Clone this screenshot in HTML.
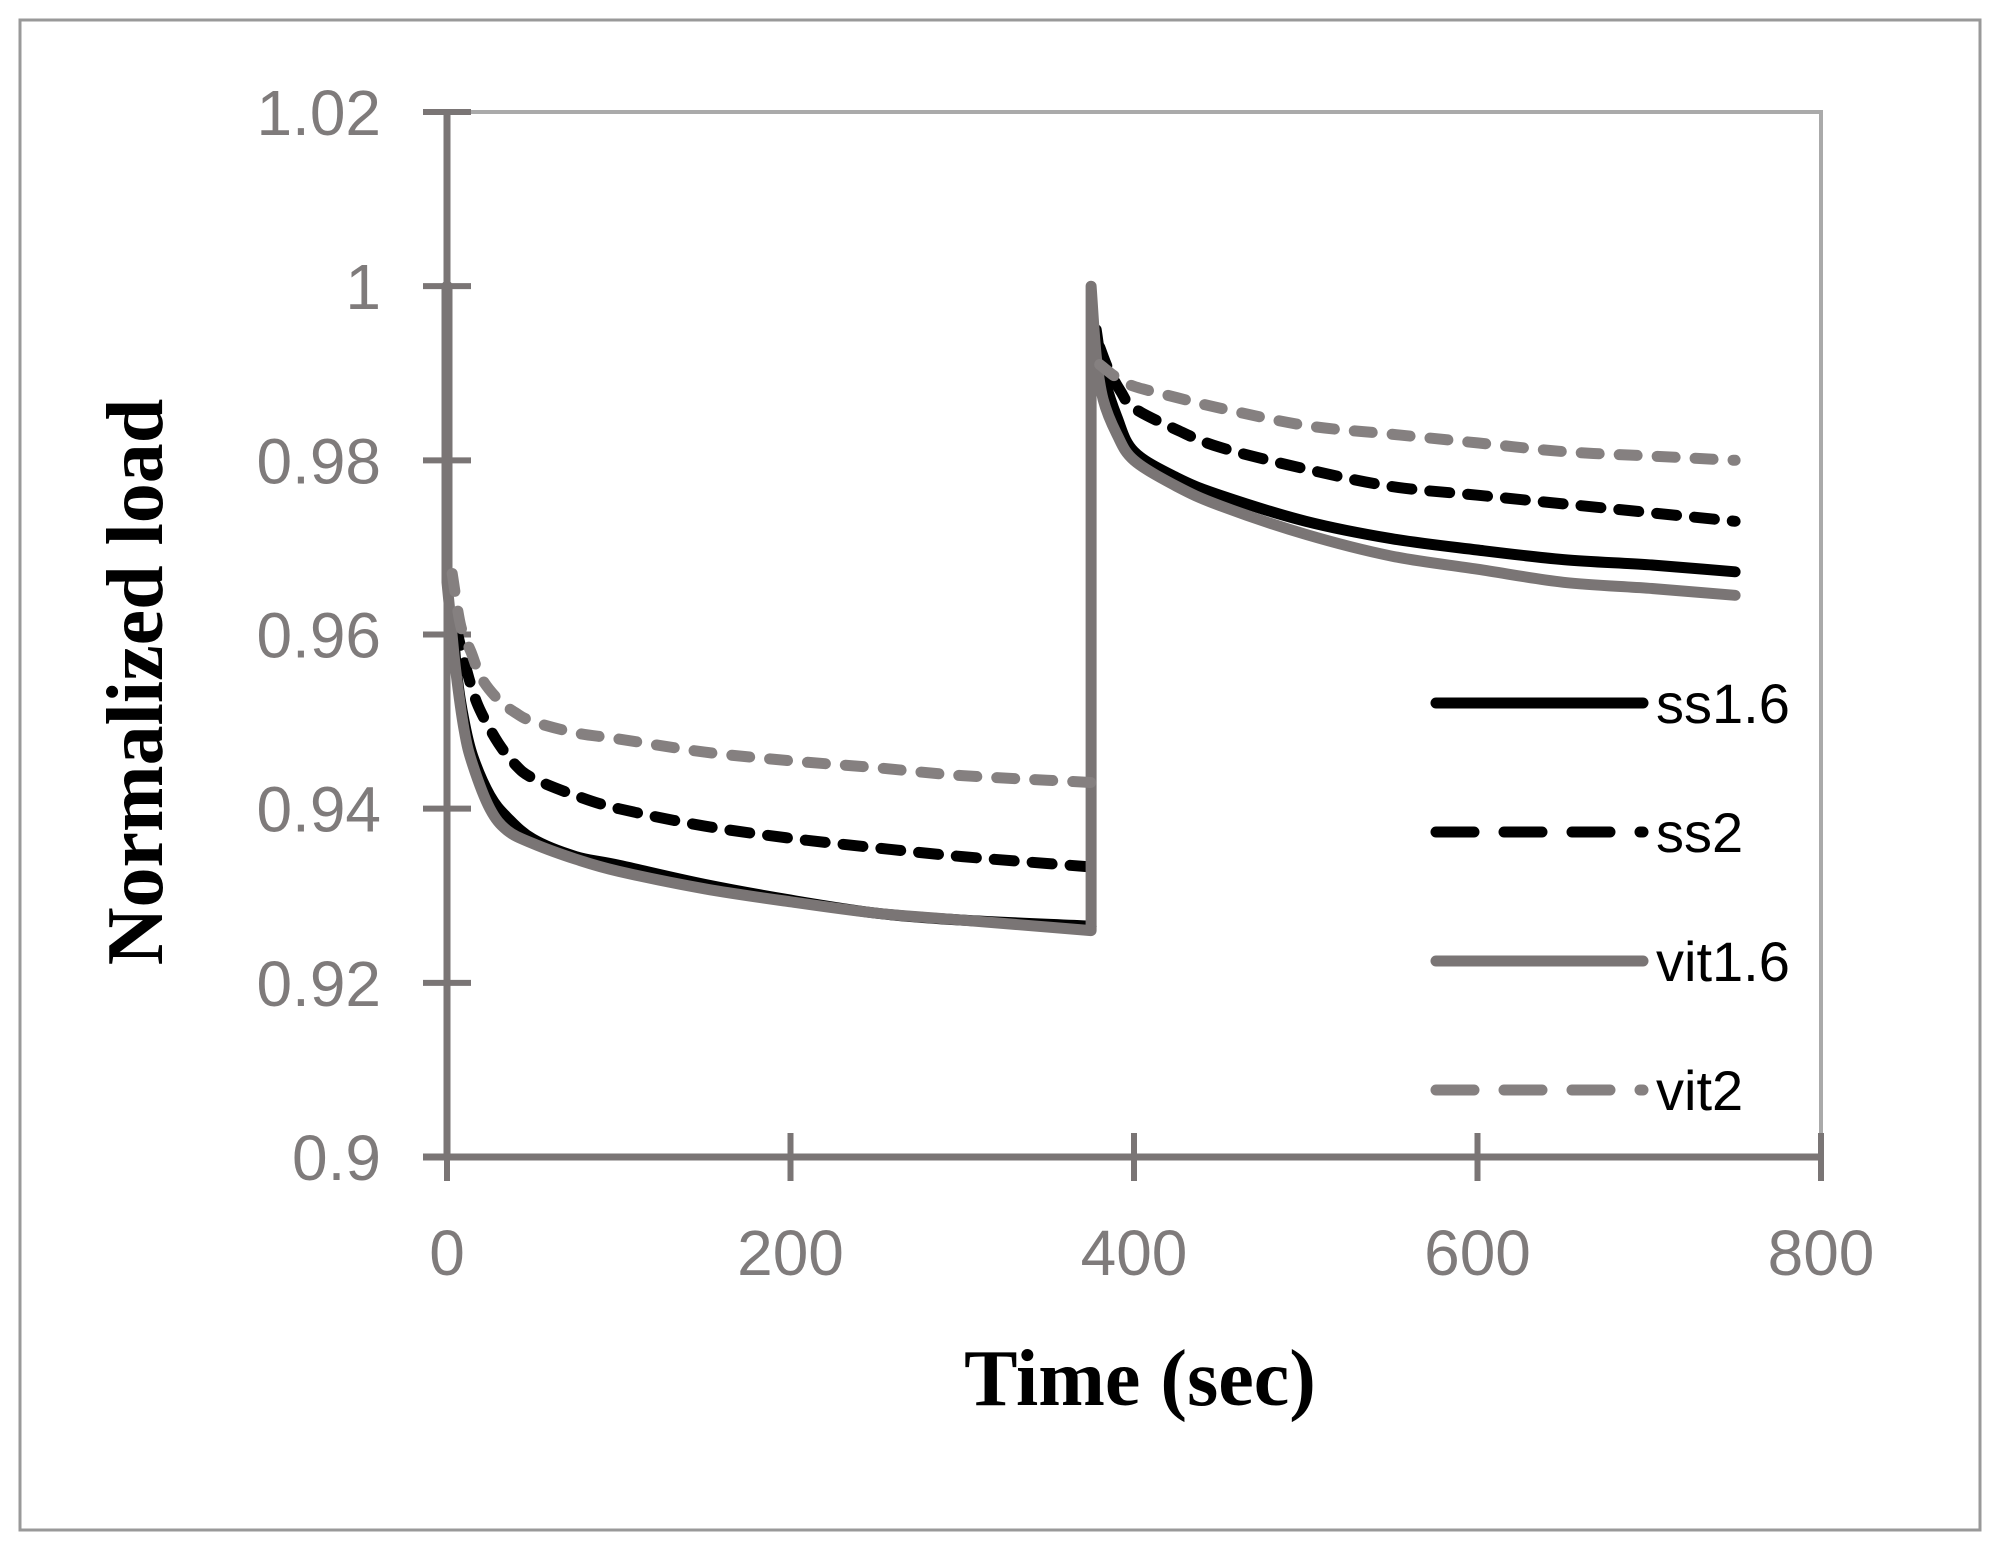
<!DOCTYPE html>
<html><head><meta charset="utf-8"><style>
body{margin:0;background:#fff;}
svg{display:block;}
.tk{font-family:"Liberation Sans",sans-serif;font-size:64px;fill:#7f7b7b;}
.ttl{font-family:"Liberation Serif",serif;font-weight:bold;font-size:80px;fill:#000;}
.lg{font-family:"Liberation Sans",sans-serif;font-size:56px;fill:#000;}
</style></head><body>
<svg id="chart" width="2001" height="1542" viewBox="0 0 2001 1542" xmlns="http://www.w3.org/2000/svg">
<rect x="20" y="20" width="1960" height="1510" fill="none" stroke="#999" stroke-width="3"/>
<g id="axes"></g>
<g id="series"></g>
<g id="legend"></g>
<text class="ttl" x="1140" y="1405" text-anchor="middle">Time (sec)</text>
<text class="ttl" transform="translate(162,682) rotate(-90)" text-anchor="middle">Normalized load</text>
</svg>
<script>
const xTicks=[0,200,400,600,800];
const yTicks=[0.9,0.92,0.94,0.96,0.98,1,1.02];
const yTickLabels=["0.9","0.92","0.94","0.96","0.98","1","1.02"];
const seriesNames=["ss1.6","ss2","vit1.6","vit2"];
const tSS16=[3,6,10,15,25,35,50,75,100,150,200,250,300,375,null,378,382,390,400,425,450,500,550,600,650,700,750];
const vSS16=[0.962,0.955,0.950,0.946,0.9415,0.939,0.9365,0.9345,0.9335,0.9313,0.9295,0.928,0.9272,0.9265,null,0.995,0.990,0.985,0.981,0.978,0.976,0.973,0.971,0.9697,0.9686,0.968,0.9672];
const tSS2=[5,10,15,20,30,40,50,75,100,150,200,250,300,375,null,380,385,392,400,425,450,500,550,600,650,700,750];
const vSS2=[0.961,0.957,0.9535,0.951,0.9475,0.945,0.9435,0.9415,0.940,0.938,0.9366,0.9355,0.9345,0.9333,null,0.993,0.9905,0.988,0.986,0.9835,0.9815,0.979,0.977,0.976,0.975,0.974,0.973];
const tVIT16=[0,0,2,5,10,15,25,35,50,75,100,150,200,250,300,375,375,378,382,390,400,425,450,500,550,600,650,700,750];
const vVIT16=[1,0.966,0.962,0.956,0.949,0.945,0.940,0.9375,0.936,0.9342,0.9328,0.9308,0.9293,0.928,0.9272,0.926,1.0,0.992,0.987,0.983,0.980,0.977,0.9748,0.9715,0.969,0.9675,0.966,0.9653,0.9645];
const tVIT2=[3,8,14,20,30,40,50,75,100,150,200,250,300,375,null,380,390,400,425,450,500,550,600,650,700,750];
const vVIT2=[0.967,0.961,0.958,0.955,0.9525,0.951,0.950,0.9487,0.948,0.9465,0.9455,0.9447,0.9438,0.943,null,0.991,0.9895,0.9885,0.9872,0.986,0.984,0.983,0.982,0.981,0.9805,0.980];

const X0=447,X1=1821,Y0=1157,Y1=112;
const sx=t=>X0+(t-0)/(800-0)*(X1-X0);
const sy=v=>Y0-(v-0.9)/(1.02-0.9)*(Y0-Y1);
const NS="http://www.w3.org/2000/svg";
function mk(tag,attrs,parent){const e=document.createElementNS(NS,tag);for(const k in attrs)e.setAttribute(k,attrs[k]);parent.appendChild(e);return e;}
const axes=document.getElementById('axes');
const gray="#7a7575";
let b=mk('polyline',{points:`${sx(0)},${sy(1.02)} ${sx(800)},${sy(1.02)} ${sx(800)},${sy(0.9)}`,fill:'none',stroke:'#aaa','stroke-width':4},axes);


let ya=mk('line',{x1:sx(0),y1:sy(1.02),x2:sx(0),y2:sy(0.9),stroke:gray,'stroke-width':7},axes);


let xa=mk('line',{x1:sx(0)-24,y1:sy(0.9),x2:sx(800),y2:sy(0.9),stroke:gray,'stroke-width':7},axes);


yTicks.forEach((v,i)=>{
  let l=mk('line',{x1:sx(0)-24,y1:sy(v),x2:sx(0)+24,y2:sy(v),stroke:gray,'stroke-width':6},axes);
  
  
  let t=mk('text',{x:sx(0)-66,y:sy(v)+23,'text-anchor':'end',class:'tk'},axes);
  t.textContent=yTickLabels[i];
  
  
});
xTicks.forEach(v=>{
  let l=mk('line',{x1:sx(v),y1:sy(0.9)-24,x2:sx(v),y2:sy(0.9)+24,stroke:gray,'stroke-width':6},axes);
  
  
  let t=mk('text',{x:sx(v),y:1275,'text-anchor':'middle',class:'tk'},axes);
  t.textContent=String(v);
  
  
});
const sg=document.getElementById('series');
const styles=[
 {t:tSS16,v:vSS16,c:'#000',d:null,n:'series-ss1-6'},
 {t:tSS2,v:vSS2,c:'#000',d:'20 18',n:'series-ss2'},
 {t:tVIT16,v:vVIT16,c:'#7a7575',d:null,n:'series-vit1-6'},
 {t:tVIT2,v:vVIT2,c:'#858080',d:'18 20',n:'series-vit2'}
];
function segPath(P){
  if(!P.length)return '';
  let d='M'+P[0][0].toFixed(1)+','+P[0][1].toFixed(1);
  for(let i=0;i<P.length-1;i++){
    const p0=P[Math.max(0,i-1)],p1=P[i],p2=P[i+1],p3=P[Math.min(P.length-1,i+2)];
    if(Math.abs(p1[0]-p2[0])<0.5){d+='L'+p2[0].toFixed(1)+','+p2[1].toFixed(1);continue;}
    const k=1/6;
    let c1=[p1[0]+(p2[0]-p0[0])*k,p1[1]+(p2[1]-p0[1])*k];
    let c2=[p2[0]-(p3[0]-p1[0])*k,p2[1]-(p3[1]-p1[1])*k];
    if(Math.abs(p0[0]-p1[0])<0.5)c1=[p1[0]+(p2[0]-p1[0])/3,p1[1]+(p2[1]-p1[1])/3];
    if(Math.abs(p3[0]-p2[0])<0.5)c2=[p2[0]-(p2[0]-p1[0])/3,p2[1]-(p2[1]-p1[1])/3];
    d+='C'+c1[0].toFixed(1)+','+c1[1].toFixed(1)+' '+c2[0].toFixed(1)+','+c2[1].toFixed(1)+' '+p2[0].toFixed(1)+','+p2[1].toFixed(1);
  }
  return d;
}
function buildPath(ts,vs){
  let d='',seg=[];
  for(let i=0;i<ts.length;i++){
    if(ts[i]===null){d+=segPath(seg);seg=[];continue;}
    seg.push([sx(ts[i]),sy(vs[i])]);
  }
  return d+segPath(seg);
}
styles.forEach(s=>{
  const a={d:buildPath(s.t,s.v),fill:'none',stroke:s.c,'stroke-width':11,'stroke-linecap':'round','stroke-linejoin':'round'};
  if(s.d)a['stroke-dasharray']=s.d;
  let p=mk('path',a,sg);
  
  
});
const lg=document.getElementById('legend');
styles.forEach((s,i)=>{
  const y=703+i*129;
  const a={x1:1436,y1:y,x2:1643,y2:y,stroke:s.c,'stroke-width':11,'stroke-linecap':'round'};
  if(s.d)a['stroke-dasharray']='38 30';
  let l=mk('line',a,lg);
  
  
  let t=mk('text',{x:1656,y:y+20,class:'lg'},lg);
  t.textContent=seriesNames[i];
  
  
});
</script>
</body></html>
